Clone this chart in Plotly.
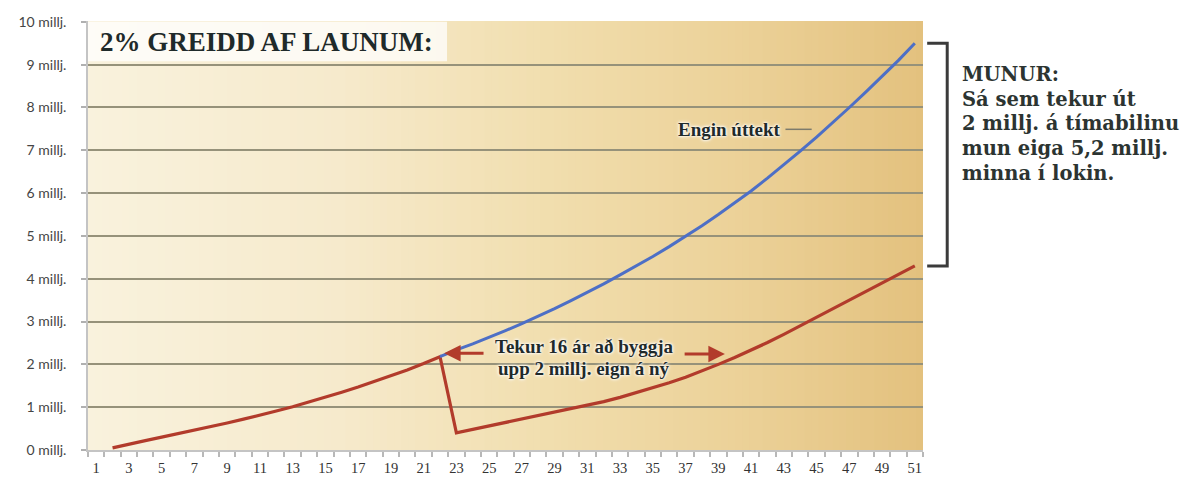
import plotly.graph_objects as go

# ---- data -------------------------------------------------------------
tick_years = list(range(1, 52, 2))
tick_year_labels = [str(y) for y in tick_years]

y_ticks = list(range(0, 11))
y_tick_labels = [f"{v} millj." for v in y_ticks]

# balance when 2 millj. are taken out in year 23 (years 2-51)
withdraw_years = list(range(2, 52))
withdraw_vals = [
    0.05, 0.14, 0.22, 0.30, 0.38, 0.46, 0.54, 0.63, 0.72, 0.81,
    0.91, 1.01, 1.12, 1.23, 1.35, 1.47, 1.60, 1.73, 1.87, 2.02,
    2.18,
    0.40, 0.48, 0.56, 0.64, 0.72, 0.80, 0.88, 0.96,
    1.04, 1.13, 1.23, 1.34, 1.45, 1.57, 1.70, 1.84, 2.00,
    2.16, 2.33, 2.51, 2.70, 2.90, 3.10, 3.30, 3.50, 3.70, 3.90, 4.10, 4.30,
]

# balance with no withdrawal (years 22-51)
keep_years = list(range(22, 52))
keep_vals = [
    2.18, 2.34, 2.48, 2.63, 2.79, 2.95, 3.12, 3.30, 3.49, 3.68,
    3.88, 4.09, 4.30, 4.52, 4.75, 4.99, 5.24, 5.50, 5.77, 6.05,
    6.35, 6.66, 6.98, 7.31, 7.65, 8.00, 8.36, 8.72, 9.10, 9.50,
]

RED = "#b23b2b"
BLUE = "#4d6fc6"
TXT = "#1f2a2a"
HALO = "0 0 3px #ffffff, 0 0 2px #ffffff, 0 0 4px #ffffff"
SERIF = "Liberation Serif"

fig = go.Figure()

fig.add_trace(go.Scatter(
    x=withdraw_years, y=withdraw_vals, mode="lines",
    line=dict(color=RED, width=3.2), hoverinfo="skip", showlegend=False,
))
fig.add_trace(go.Scatter(
    x=keep_years, y=keep_vals, mode="lines",
    line=dict(color=BLUE, width=3), hoverinfo="skip", showlegend=False,
))

# ---- plot-area background: cream to golden horizontal gradient --------
stops = [
    (0.00, (249, 242, 221)),
    (0.30, (246, 234, 204)),
    (0.55, (241, 222, 174)),
    (0.80, (235, 208, 150)),
    (1.00, (227, 193, 126)),
]


def grad_color(t):
    for (t0, c0), (t1, c1) in zip(stops[:-1], stops[1:]):
        if t0 <= t <= t1:
            f = (t - t0) / (t1 - t0)
            return "rgb(%d,%d,%d)" % tuple(round(a + (b - a) * f) for a, b in zip(c0, c1))
    return "rgb(%d,%d,%d)" % stops[-1][1]


n_strips = 120
shapes = []
for i in range(n_strips):
    x0 = i / n_strips
    x1 = (i + 1) / n_strips + 0.002
    shapes.append(dict(
        type="rect", xref="paper", yref="paper", x0=x0, x1=min(x1, 1), y0=0, y1=1,
        fillcolor=grad_color((i + 0.5) / n_strips), line=dict(width=0), layer="below",
    ))

# light box behind the heading
shapes.append(dict(
    type="rect", xref="paper", yref="y", x0=0, x1=0.43, y0=9.08, y1=10,
    fillcolor="rgba(255,255,255,0.75)", line=dict(width=0), layer="below",
))

# leader line for the "Engin úttekt" label
shapes.append(dict(
    type="line", xref="x", yref="y", x0=43.1, x1=44.7, y0=7.49, y1=7.49,
    line=dict(color="#7d7b6c", width=1.5),
))

# bracket spanning the difference between the two end values
bx0, bx1 = 1.005, 1.029
shapes.append(dict(
    type="path", xref="paper", yref="y",
    path=f"M {bx0},{keep_vals[-1]} L {bx1},{keep_vals[-1]} L {bx1},{withdraw_vals[-1]} L {bx0},{withdraw_vals[-1]}",
    line=dict(color="#3b3b3b", width=3),
))

annotations = [
    dict(text="<b>2% GREIDD AF LAUNUM:</b>", xref="paper", yref="y", x=0.012, y=9.52,
         xanchor="left", yanchor="middle", showarrow=False,
         font=dict(family=SERIF, size=27, color=TXT)),
    dict(text="<b>Engin úttekt</b>", xref="x", yref="y", x=42.95, y=7.49,
         xanchor="right", yanchor="middle", showarrow=False,
         font=dict(family=SERIF, size=19, color=TXT, shadow=HALO)),
    dict(text="<b>Tekur 16 ár að byggja</b>", xref="x", yref="y", x=30.8, y=2.42,
         xanchor="center", yanchor="middle", showarrow=False,
         font=dict(family=SERIF, size=19, color=TXT, shadow=HALO)),
    dict(text="<b>upp 2 millj. eign á ný</b>", xref="x", yref="y", x=30.8, y=1.91,
         xanchor="center", yanchor="middle", showarrow=False,
         font=dict(family=SERIF, size=19, color=TXT, shadow=HALO)),
    # arrows either side of the 16-year note
    dict(text="", xref="x", yref="y", axref="x", ayref="y",
         x=22.25, y=2.26, ax=24.75, ay=2.26, showarrow=True,
         arrowhead=2, arrowsize=1.1, arrowwidth=3, arrowcolor=RED),
    dict(text="", xref="x", yref="y", axref="x", ayref="y",
         x=39.4, y=2.24, ax=36.85, ay=2.24, showarrow=True,
         arrowhead=2, arrowsize=1.1, arrowwidth=3, arrowcolor=RED),
]

side_lines = [
    "MUNUR:",
    "Sá sem tekur út",
    "2 millj. á tímabilinu",
    "mun eiga 5,2 millj.",
    "minna í lokin.",
]
for k, line in enumerate(side_lines):
    annotations.append(dict(
        text=f"<b>{line}</b>", xref="paper", yref="paper",
        x=1.044, y=(450 - 75 - 24.5 * k) / 429, xanchor="left", yanchor="middle",
        showarrow=False, font=dict(family="DejaVu Serif", size=19.5, color="#2c3431"),
    ))

fig.update_layout(
    width=1185, height=479,
    margin=dict(l=88, r=262, t=21, b=29, autoexpand=False),
    paper_bgcolor="white", plot_bgcolor="rgb(249,242,221)",
    shapes=shapes, annotations=annotations,
    xaxis=dict(
        range=[0.5, 51.5], tickmode="array", tickvals=tick_years, ticktext=tick_year_labels,
        ticks="", showgrid=False, zeroline=False, showline=True, automargin=False,
        linecolor="#c4c4c4", linewidth=1.5, ticklabelstandoff=4,
        tickfont=dict(family=SERIF, size=14.5, color="#333333"),
        minor=dict(tickmode="linear", tick0=0.5, dtick=1, ticks="outside",
                   ticklen=5, tickwidth=1.5, tickcolor="#b8b8b8", showgrid=False),
        fixedrange=True,
    ),
    yaxis=dict(
        range=[0, 10.02], tickmode="array", tickvals=y_ticks, ticktext=y_tick_labels,
        ticks="outside", ticklen=5, tickwidth=1.5, tickcolor="#b0b0b0", automargin=False,
        showgrid=True, gridcolor="#96927a", gridwidth=2, zeroline=False,
        showline=True, linecolor="#c4c4c4", linewidth=1.5, ticklabelstandoff=12,
        tickfont=dict(family="Lato", size=14, color="#454545"),
        fixedrange=True,
    ),
)

fig.write_html("out.html")
